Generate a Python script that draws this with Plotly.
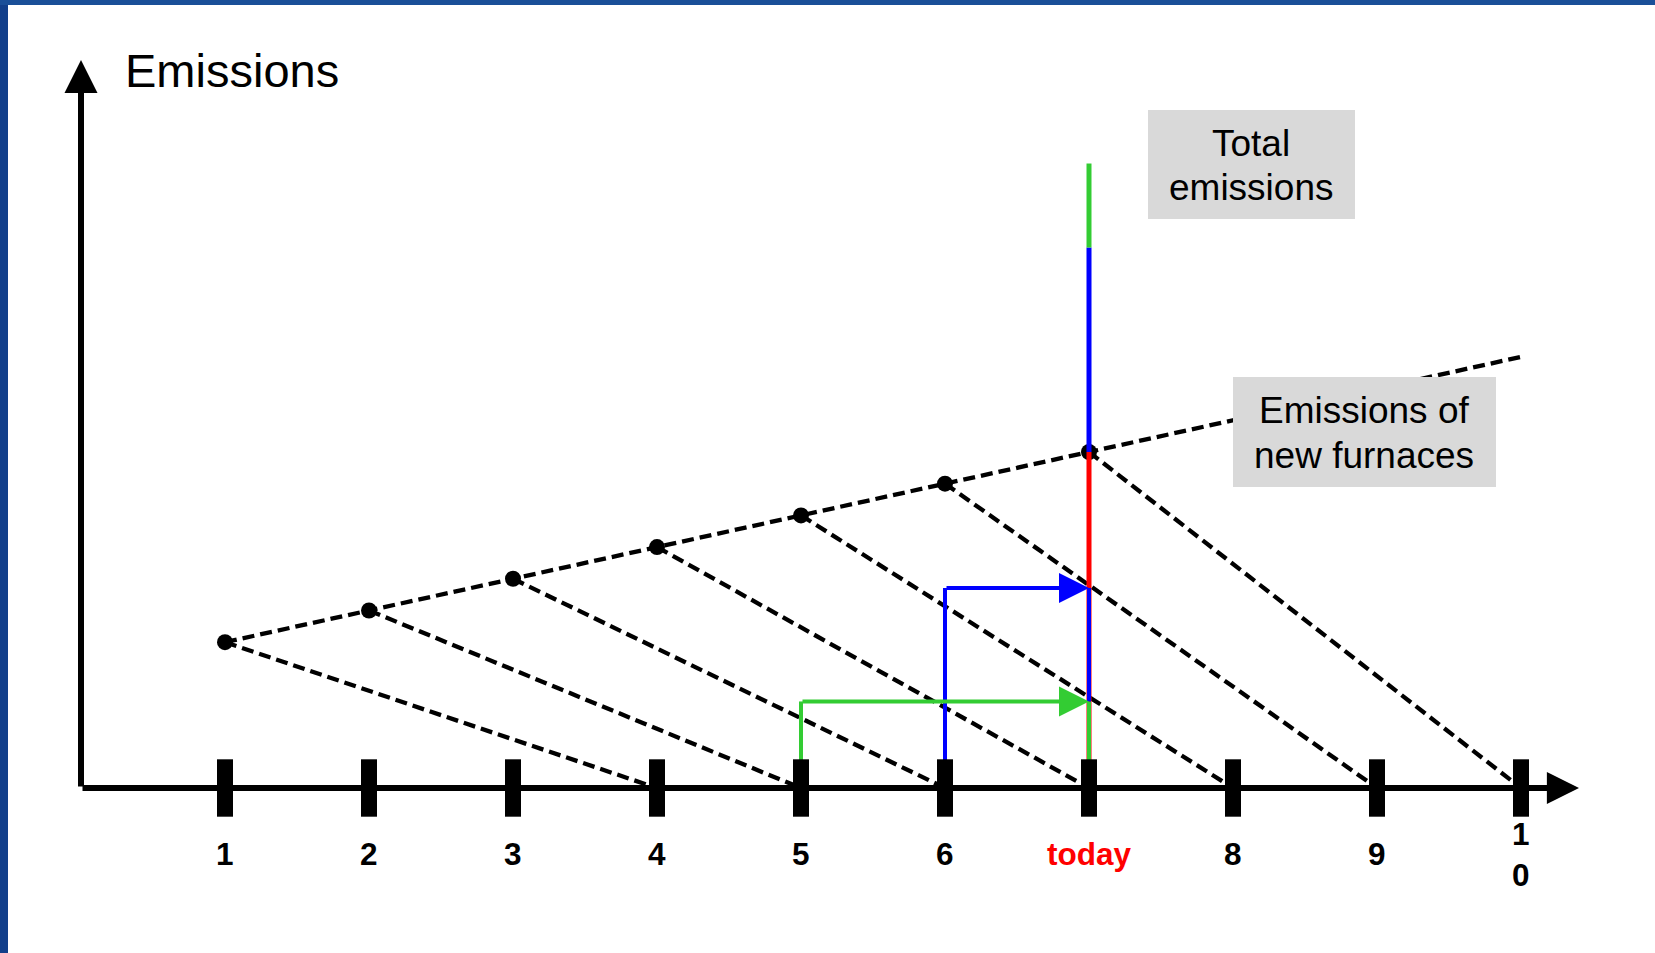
import plotly.graph_objects as go

W, H = 1655, 953

years = [1, 2, 3, 4, 5, 6, 7, 8, 9, 10]
tick_labels = ["1", "2", "3", "4", "5", "6", "today", "8", "9", "1<br>0"]
tick_colors = ["black"] * 6 + ["#ff0000"] + ["black"] * 3

# emissions of the furnace built in each year, and the year it is retired
furnace_years = [1, 2, 3, 4, 5, 6, 7]
furnace_emissions = [4.6, 5.6, 6.6, 7.6, 8.6, 9.6, 10.6]
retire_years = [4, 5, 6, 7, 8, 9, 10]

# trend of emissions of new furnaces
trend_years = [1, 10]
trend_emissions = [4.6, 13.6]

today = 7
# stacked total at "today": new furnace (red), year-6 furnace (blue), year-5 furnace (green)
stack_colors = ["#ff0000", "#0000ff", "#33cc33"]
stack_values = [10.6, 6.45, 2.65]

# what older furnaces still emit today
carry_from = [5, 6]
carry_values = [2.73, 6.31]
carry_colors = ["#33cc33", "#0000ff"]

FONT = "Liberation Sans, Arial, sans-serif"

# axis ranges so that year 1 sits at 225px, one year = 144px, one unit = 31.7px
x_range = [1 - 225 / 144, 1 + (W - 225) / 144]
y_range = [-(H - 788) / 31.7, 788 / 31.7]

fig = go.Figure()

# decay of each furnace down to its retirement year
dx, dy = [], []
for yr, e, r in zip(furnace_years, furnace_emissions, retire_years):
    dx += [yr, r, None]
    dy += [e, 0, None]
fig.add_trace(go.Scatter(x=dx, y=dy, mode="lines",
                         line=dict(color="black", width=4.3, dash="12px,6px")))
fig.add_trace(go.Scatter(x=trend_years, y=trend_emissions, mode="lines",
                         line=dict(color="black", width=4.3, dash="12px,6px")))
fig.add_trace(go.Scatter(x=furnace_years, y=furnace_emissions, mode="markers",
                         marker=dict(color="black", size=16)))

# stacked total at today
base = 0
for val, col in zip(stack_values, stack_colors):
    fig.add_trace(go.Scatter(x=[today, today], y=[base, base + val], mode="lines",
                             line=dict(color=col, width=5)))
    base += val

# carried-over emissions: vertical lines from their year, and their share on today's bar
low = 0
for yr, val, col in zip(carry_from, carry_values, carry_colors):
    fig.add_trace(go.Scatter(x=[yr, yr], y=[0, val], mode="lines",
                             line=dict(color=col, width=4)))
    fig.add_trace(go.Scatter(x=[today, today], y=[low, val], mode="lines",
                             line=dict(color=col, width=4)))
    low = val
    fig.add_annotation(x=today, y=val, ax=yr, ay=val, xref="x", yref="y",
                       axref="x", ayref="y", text="", showarrow=True,
                       arrowhead=2, arrowwidth=4, arrowsize=1.5, arrowcolor=col)

# tick bars
fig.add_trace(go.Scatter(x=years, y=[0] * len(years), mode="markers",
                         marker=dict(symbol="line-ns", size=41,
                                     line=dict(color="black", width=16))))

# axes with arrows
fig.add_annotation(x=0, y=y_range[1] - 60 / 31.7, ax=0, ay=0, xref="x", yref="y",
                   axref="x", ayref="y", text="", showarrow=True,
                   arrowhead=2, arrowwidth=6, arrowsize=1.1, arrowcolor="black")
fig.add_annotation(x=1 + (1579 - 225) / 144, y=0, ax=0, ay=0, xref="x", yref="y",
                   axref="x", ayref="y", text="", showarrow=True,
                   arrowhead=2, arrowwidth=6, arrowsize=1.07, arrowcolor="black")

# tick labels
for yr, lab, col in zip(years, tick_labels, tick_colors):
    fig.add_annotation(x=yr, y=1 - 854 / H, xref="x", yref="paper", text=f"<b>{lab}</b>",
                       showarrow=False, font=dict(family=FONT, size=31.5, color=col),
                       xanchor="center", yanchor="middle")

# text boxes
fig.add_shape(type="rect", xref="paper", yref="paper", x0=1148 / W, x1=1355 / W,
              y0=1 - 219 / H, y1=1 - 110 / H, fillcolor="#d9d9d9", line_width=0, layer="above")
fig.add_shape(type="rect", xref="paper", yref="paper", x0=1233 / W, x1=1496 / W,
              y0=1 - 487 / H, y1=1 - 377 / H, fillcolor="#d9d9d9", line_width=0, layer="above")
for txt, cx, cy in [("Total", 1251, 144), ("emissions", 1251, 187),
                    ("Emissions of", 1364, 411), ("new furnaces", 1364, 455)]:
    fig.add_annotation(x=cx / W, y=1 - cy / H, xref="paper", yref="paper", text=txt,
                       showarrow=False, font=dict(family=FONT, size=37, color="black"),
                       xanchor="center", yanchor="middle")
fig.add_annotation(x=123 / W, y=1 - 70 / H, xref="paper", yref="paper", text="Emissions",
                   showarrow=False, font=dict(family=FONT, size=47, color="black"),
                   xanchor="left", yanchor="middle")

# blue frame on the left and top
fig.add_shape(type="rect", xref="paper", yref="paper", x0=0, x1=8 / W, y0=0, y1=1,
              fillcolor="#123f8a", line_width=0, layer="above")
fig.add_shape(type="rect", xref="paper", yref="paper", x0=0, x1=1, y0=1 - 5 / H, y1=1,
              fillcolor="#1a4f98", line_width=0, layer="above")

fig.update_layout(
    width=W, height=H, margin=dict(l=0, r=0, t=0, b=0),
    paper_bgcolor="white", plot_bgcolor="white", showlegend=False,
    xaxis=dict(range=x_range, visible=False, fixedrange=True),
    yaxis=dict(range=y_range, visible=False, fixedrange=True),
)

fig.write_html("out.html", config={"displayModeBar": False},
               post_script="document.body.style.margin='0';document.body.style.overflow='hidden';")
